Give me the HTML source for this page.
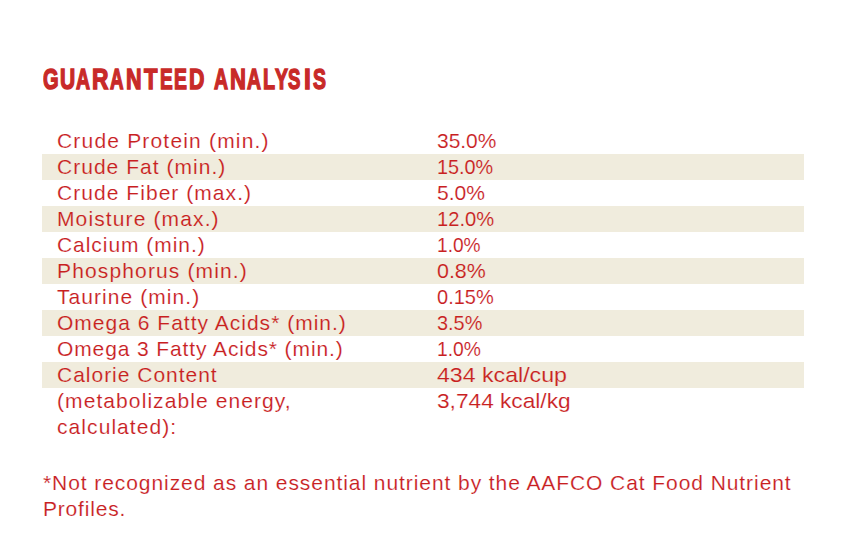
<!DOCTYPE html>
<html><head><meta charset="utf-8">
<style>
html,body{margin:0;padding:0;background:#fff;width:862px;height:538px;overflow:hidden;}
body{position:relative;font-family:"Liberation Sans",sans-serif;color:#c8201f;}
.hl{position:absolute;top:61px;font-weight:bold;font-size:30px;line-height:36px;white-space:nowrap;transform-origin:0 0;color:#c82a28;-webkit-text-stroke:1.5px #c82a28;}
.stripe{position:absolute;left:42px;width:762px;height:26px;background:#f0ecdd;}
.t{position:absolute;font-size:21px;line-height:26px;white-space:nowrap;-webkit-text-stroke:0.15px #fff;}
.l{left:57px;}
.r{left:437px;transform-origin:0 0;}
.s{-webkit-text-stroke-color:#f0ecdd;}
.f{position:absolute;left:43px;font-size:21px;line-height:26px;white-space:nowrap;-webkit-text-stroke:0.15px #fff;}
</style></head><body>
<span class="hl" style="left:43.30px;transform:scaleX(0.669)">G</span>
<span class="hl" style="left:59.70px;transform:scaleX(0.700)">U</span>
<span class="hl" style="left:76.05px;transform:scaleX(0.646)">A</span>
<span class="hl" style="left:92.28px;transform:scaleX(0.759)">R</span>
<span class="hl" style="left:110.12px;transform:scaleX(0.625)">A</span>
<span class="hl" style="left:126.15px;transform:scaleX(0.719)">N</span>
<span class="hl" style="left:144.48px;transform:scaleX(0.735)">T</span>
<span class="hl" style="left:160.13px;transform:scaleX(0.635)">E</span>
<span class="hl" style="left:174.22px;transform:scaleX(0.646)">E</span>
<span class="hl" style="left:188.71px;transform:scaleX(0.712)">D</span>
<span class="hl" style="left:213.77px;transform:scaleX(0.648)">A</span>
<span class="hl" style="left:229.68px;transform:scaleX(0.735)">N</span>
<span class="hl" style="left:246.65px;transform:scaleX(0.646)">A</span>
<span class="hl" style="left:262.91px;transform:scaleX(0.656)">L</span>
<span class="hl" style="left:274.52px;transform:scaleX(0.648)">Y</span>
<span class="hl" style="left:288.20px;transform:scaleX(0.620)">S</span>
<span class="hl" style="left:303.85px;transform:scaleX(0.813)">I</span>
<span class="hl" style="left:312.88px;transform:scaleX(0.647)">S</span>
<div class="stripe" style="top:154px"></div>
<div class="stripe" style="top:206px"></div>
<div class="stripe" style="top:258px"></div>
<div class="stripe" style="top:310px"></div>
<div class="stripe" style="top:362px"></div>
<div class="t l" style="top:128px;letter-spacing:1.184px">Crude Protein (min.)</div>
<div class="t l s" style="top:154px;letter-spacing:1.026px">Crude Fat (min.)</div>
<div class="t l" style="top:180px;letter-spacing:1.048px">Crude Fiber (max.)</div>
<div class="t l s" style="top:206px;letter-spacing:1.125px">Moisture (max.)</div>
<div class="t l" style="top:232px;letter-spacing:0.948px">Calcium (min.)</div>
<div class="t l s" style="top:258px;letter-spacing:1.142px">Phosphorus (min.)</div>
<div class="t l" style="top:284px;letter-spacing:1.066px">Taurine (min.)</div>
<div class="t l s" style="top:310px;letter-spacing:1.011px">Omega 6 Fatty Acids* (min.)</div>
<div class="t l" style="top:336px;letter-spacing:0.890px">Omega 3 Fatty Acids* (min.)</div>
<div class="t l s" style="top:362px;letter-spacing:0.984px">Calorie Content</div>
<div class="t l" style="top:388px;letter-spacing:1.084px">(metabolizable energy,</div>
<div class="t l" style="top:414px;letter-spacing:1.072px">calculated):</div>
<div class="t r" style="top:128px;transform:scaleX(0.9966)">35.0%</div>
<div class="t r s" style="top:154px;transform:scaleX(0.9446)">15.0%</div>
<div class="t r" style="top:180px;transform:scaleX(1.0027)">5.0%</div>
<div class="t r s" style="top:206px;transform:scaleX(0.9600)">12.0%</div>
<div class="t r" style="top:232px;transform:scaleX(0.9109)">1.0%</div>
<div class="t r s" style="top:258px;transform:scaleX(1.0200)">0.8%</div>
<div class="t r" style="top:284px;transform:scaleX(0.9527)">0.15%</div>
<div class="t r s" style="top:310px;transform:scaleX(0.9464)">3.5%</div>
<div class="t r" style="top:336px;transform:scaleX(0.9198)">1.0%</div>
<div class="t r s" style="top:362px;transform:scaleX(1.1014)">434 kcal/cup</div>
<div class="t r" style="top:388px;transform:scaleX(1.0796)">3,744 kcal/kg</div>
<div class="f" style="top:470px;letter-spacing:0.926px">*Not recognized as an essential nutrient by the AAFCO Cat Food Nutrient</div>
<div class="f" style="top:496px;letter-spacing:0.810px">Profiles.</div>
</body></html>
